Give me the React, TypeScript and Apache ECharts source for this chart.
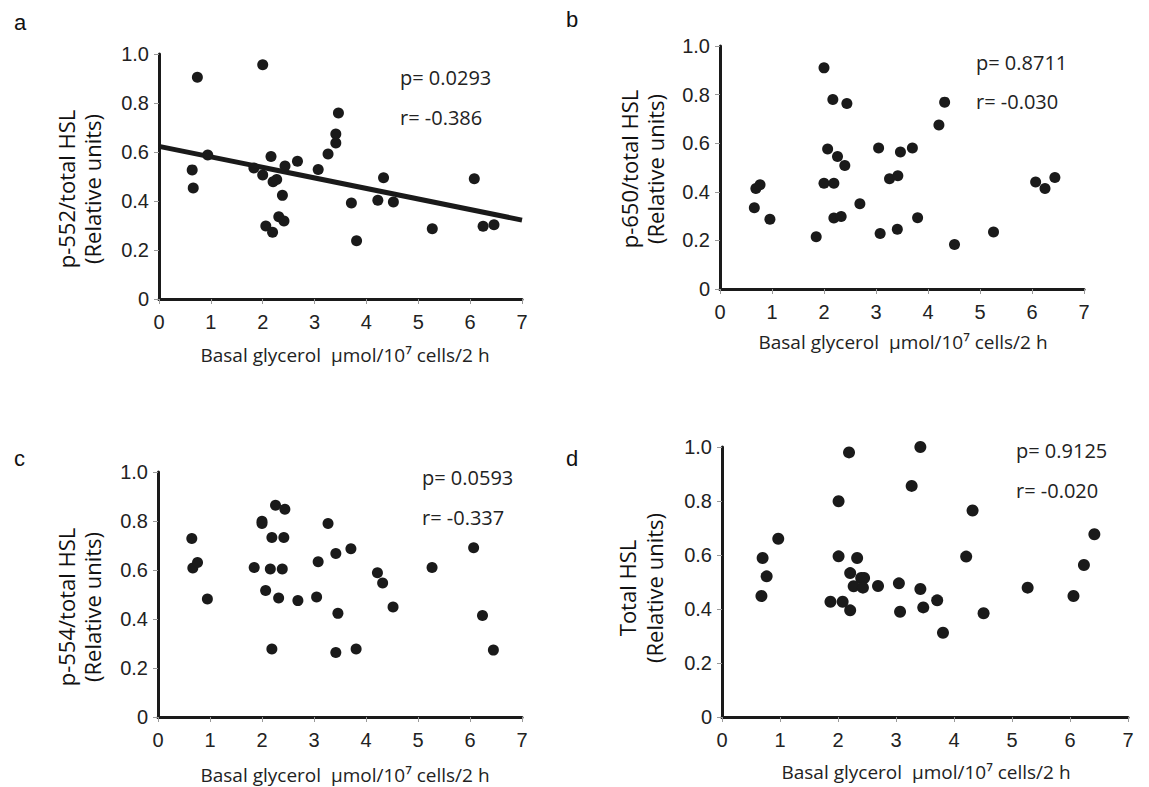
import React, { useEffect, useRef } from "react";
import * as echarts from "echarts";

// ---------- Data ----------
const xTicks = [0, 1, 2, 3, 4, 5, 6, 7];
const yTicks = [0, 0.2, 0.4, 0.6, 0.8, 1.0];

// Panel a: p-552/total HSL
const aX = [0.74, 2.0, 0.64, 0.66, 0.94, 1.83, 2.0, 2.16, 2.2, 2.27, 2.43, 2.38, 2.06, 2.19, 2.31, 2.41, 2.67, 3.07, 3.26, 3.41, 3.41, 3.46, 3.71, 3.81, 4.22, 4.33, 4.52, 5.27, 6.08, 6.25, 6.46];
const aY = [0.905, 0.956, 0.527, 0.453, 0.588, 0.535, 0.506, 0.582, 0.479, 0.488, 0.543, 0.423, 0.298, 0.272, 0.336, 0.318, 0.562, 0.529, 0.592, 0.637, 0.673, 0.759, 0.392, 0.238, 0.403, 0.495, 0.396, 0.287, 0.491, 0.297, 0.303];
const aFitX = [0, 7];
const aFitY = [0.623, 0.322];

// Panel b: p-650/total HSL
const bX = [2.0, 2.17, 2.44, 4.32, 4.21, 2.07, 2.26, 2.4, 3.05, 3.47, 3.7, 3.26, 3.42, 2.0, 2.19, 0.69, 0.77, 0.66, 0.96, 2.69, 2.19, 2.33, 1.85, 3.08, 3.41, 3.8, 4.51, 5.26, 6.07, 6.25, 6.44];
const bY = [0.91, 0.78, 0.763, 0.769, 0.675, 0.576, 0.545, 0.508, 0.58, 0.564, 0.58, 0.454, 0.466, 0.435, 0.435, 0.414, 0.429, 0.334, 0.287, 0.351, 0.292, 0.298, 0.215, 0.228, 0.246, 0.293, 0.183, 0.235, 0.44, 0.414, 0.459];

// Panel c: p-554/total HSL
const cX = [0.65, 0.67, 0.76, 0.95, 1.85, 2.0, 2.0, 2.26, 2.44, 2.19, 2.42, 2.16, 2.39, 2.07, 2.32, 2.69, 2.19, 3.05, 3.08, 3.27, 3.42, 3.71, 3.46, 3.42, 3.81, 4.22, 4.32, 4.52, 5.27, 6.07, 6.24, 6.45];
const cY = [0.729, 0.608, 0.631, 0.482, 0.61, 0.799, 0.79, 0.864, 0.848, 0.733, 0.733, 0.604, 0.604, 0.516, 0.486, 0.475, 0.278, 0.49, 0.634, 0.79, 0.667, 0.687, 0.423, 0.263, 0.278, 0.589, 0.547, 0.449, 0.61, 0.691, 0.414, 0.273];

// Panel d: Total HSL
const dX = [3.42, 2.19, 3.27, 2.01, 4.32, 6.42, 0.97, 0.7, 2.01, 2.33, 4.21, 0.77, 0.68, 2.21, 2.4, 2.45, 2.27, 2.43, 2.69, 3.05, 3.42, 1.87, 2.08, 2.21, 3.07, 3.47, 3.71, 3.81, 4.51, 5.27, 6.06, 6.24];
const dY = [1.0, 0.98, 0.856, 0.799, 0.765, 0.677, 0.66, 0.589, 0.595, 0.589, 0.594, 0.521, 0.448, 0.533, 0.515, 0.515, 0.484, 0.479, 0.485, 0.495, 0.474, 0.427, 0.427, 0.395, 0.39, 0.406, 0.432, 0.312, 0.384, 0.479, 0.448, 0.563];

const panelLetters = ["a", "b", "c", "d"];
const yTitles = [
  ["p-552/total HSL", "(Relative units)"],
  ["p-650/total HSL", "(Relative units)"],
  ["p-554/total HSL", "(Relative units)"],
  ["Total HSL", "(Relative units)"],
];
const xTitle = "Basal glycerol  \u00b5mol/10\u2077 cells/2 h";
const pTexts = ["p= 0.0293", "p= 0.8711", "p= 0.0593", "p= 0.9125"];
const rTexts = ["r= -0.386", "r= -0.030", "r= -0.337", "r= -0.020"];

// ---------- Layout ----------
const grids = [
  { left: 159, top: 54, width: 363, height: 245 },
  { left: 720, top: 46, width: 364, height: 243 },
  { left: 158, top: 472, width: 364, height: 245 },
  { left: 722, top: 447, width: 406, height: 270 },
];
const letterPos = [
  [14, 22],
  [566, 19],
  [14, 458],
  [566, 458],
];
const yTitlePos = [
  [66, 92, 189],
  [629, 655, 169],
  [66, 92, 607],
  [627, 654, 588],
];
const xTitlePos = [
  [345, 355],
  [903, 342],
  [345, 775],
  [926, 772],
];
const statPos = [
  [400, 77, 117],
  [976, 62, 101],
  [422, 477, 517],
  [1016, 450, 490],
];
const dotSizes = [11, 11, 11, 12];

const ink = "#1a1a1a";
const sansTitle = "'Open Sans', 'Noto Sans', sans-serif";
const sansTick = "'Liberation Sans', Arial, sans-serif";

function zip(xs: number[], ys: number[]) {
  return xs.map((x, i) => [x, ys[i]]);
}

export default function App() {
  const ref = useRef<HTMLDivElement>(null);

  useEffect(() => {
    if (!ref.current) return;
    const chart = echarts.init(ref.current, null, { renderer: "svg" });

    const xAxes = grids.map((_, i) => ({
      type: "value",
      gridIndex: i,
      min: xTicks[0],
      max: xTicks[xTicks.length - 1],
      interval: 1,
      axisLine: { show: true, onZero: false, lineStyle: { color: ink, width: 3 } },
      axisTick: { show: true, length: 5, lineStyle: { color: "#999", width: 1 } },
      axisLabel: { fontFamily: sansTick, fontSize: 20, color: "#222", margin: 13 },
      splitLine: { show: false },
    }));
    const yAxes = grids.map((_, i) => ({
      type: "value",
      gridIndex: i,
      min: yTicks[0],
      max: yTicks[yTicks.length - 1],
      interval: 0.2,
      axisLine: { show: true, onZero: false, lineStyle: { color: ink, width: 3 } },
      axisTick: { show: true, length: 5, lineStyle: { color: "#999", width: 1 } },
      axisLabel: {
        fontFamily: sansTick,
        fontSize: 20,
        color: "#222",
        margin: 10,
        formatter: (v: number) => (v === 0 ? "0" : v.toFixed(1)),
      },
      splitLine: { show: false },
    }));

    const datasets = [zip(aX, aY), zip(bX, bY), zip(cX, cY), zip(dX, dY)];
    const series: any[] = datasets.map((d, i) => ({
      type: "scatter",
      xAxisIndex: i,
      yAxisIndex: i,
      data: d,
      symbol: "circle",
      symbolSize: dotSizes[i],
      itemStyle: { color: ink, opacity: 1 },
      z: 3,
    }));
    series.push({
      type: "line",
      xAxisIndex: 0,
      yAxisIndex: 0,
      data: zip(aFitX, aFitY),
      symbol: "none",
      lineStyle: { color: ink, width: 5 },
      z: 4,
    });

    const graphic: any[] = [];
    panelLetters.forEach((l, i) => {
      graphic.push({
        type: "text",
        x: letterPos[i][0],
        y: letterPos[i][1],
        style: { text: l, font: `22px ${sansTick}`, fill: "#111", verticalAlign: "middle", align: "left" },
      });
      const [x1, x2, yc] = yTitlePos[i];
      graphic.push({
        type: "text",
        x: x1,
        y: yc,
        rotation: Math.PI / 2,
        style: { text: yTitles[i][0], font: `22px ${sansTitle}`, fill: "#111", align: "center", verticalAlign: "middle" },
      });
      graphic.push({
        type: "text",
        x: x2,
        y: yc,
        rotation: Math.PI / 2,
        style: { text: yTitles[i][1], font: `22px ${sansTitle}`, fill: "#111", align: "center", verticalAlign: "middle" },
      });
      graphic.push({
        type: "text",
        x: xTitlePos[i][0],
        y: xTitlePos[i][1],
        style: { text: xTitle, font: `19px ${sansTitle}`, fill: "#222", align: "center", verticalAlign: "middle" },
      });
      graphic.push({
        type: "text",
        x: statPos[i][0],
        y: statPos[i][1],
        style: { text: pTexts[i], font: `20px ${sansTitle}`, fill: "#222", align: "left", verticalAlign: "middle" },
      });
      graphic.push({
        type: "text",
        x: statPos[i][0],
        y: statPos[i][2],
        style: { text: rTexts[i], font: `20px ${sansTitle}`, fill: "#222", align: "left", verticalAlign: "middle" },
      });
    });

    chart.setOption({
      animation: false,
      backgroundColor: "#ffffff",
      grid: grids.map((g) => ({ ...g, containLabel: false })),
      xAxis: xAxes,
      yAxis: yAxes,
      series,
      graphic,
    });

    return () => chart.dispose();
  }, []);

  return (
    <div
      ref={ref}
      style={{ position: "absolute", left: 0, top: 0, width: 1149, height: 787, background: "#fff" }}
    />
  );
}
